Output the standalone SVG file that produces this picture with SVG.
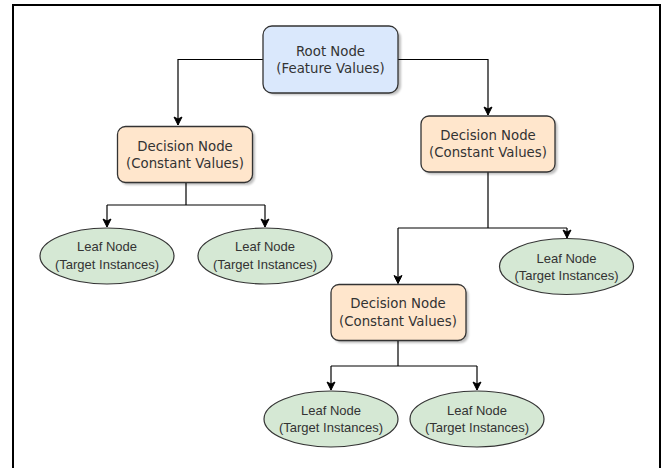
<svg xmlns="http://www.w3.org/2000/svg" width="665" height="468" viewBox="0 0 665 468">
  <style>
    .frame { fill: none; stroke: #000; stroke-width: 2; }
    .box { stroke: #333; stroke-width: 1.3; }
    .root { fill: #dae8fc; }
    .decision { fill: #ffe6cc; }
    .leaf { fill: #d5e8d4; stroke: #333; stroke-width: 1.2; }
    .shadow { fill: #000; opacity: 0.25; filter: url(#soft); }
    .lbl { font-family: "DejaVu Sans", Verdana, sans-serif; font-size: 13.3px; fill: #333; text-anchor: middle; }
    .leaf-lbl { font-family: "Liberation Sans", Arial, sans-serif; font-size: 13px; fill: #333; text-anchor: middle; }
    .edge { fill: none; stroke: #000; stroke-width: 1.2; marker-end: url(#arrow); }
    .trunk { fill: none; stroke: #000; stroke-width: 1.2; }
  </style>
  <defs>
    <filter id="soft" x="-10%" y="-10%" width="120%" height="130%">
      <feGaussianBlur stdDeviation="1"/>
    </filter>
    <marker id="arrow" markerUnits="userSpaceOnUse" markerWidth="10" markerHeight="10" refX="9" refY="5" orient="auto">
      <path d="M1,1 L9,5 L1,9 L3,5 z" fill="#000" stroke="#000" stroke-width="1"/>
    </marker>
  </defs>

  <rect width="665" height="468" fill="#fff"/>
  <path class="frame" d="M13,468 V5 H660 V468"/>

  <!-- connectors -->
  <g id="connectors">
    <path class="edge" d="M263,59.5 H178 V125"/>
    <path class="edge" d="M398,59.5 H488 V115"/>
    <path class="trunk" d="M186,183 V205 M107,205 H265"/>
    <path class="edge" d="M107,205 V227"/>
    <path class="edge" d="M265,205 V227"/>
    <path class="trunk" d="M488,172 V228 M398,228 H567"/>
    <path class="edge" d="M398,228 V283.5"/>
    <path class="edge" d="M567,228 V238"/>
    <path class="trunk" d="M398,341 V366 M331,366 H477"/>
    <path class="edge" d="M331,366 V390"/>
    <path class="edge" d="M477,366 V390"/>
  </g>

  <!-- root -->
  <g id="root-node">
    <rect class="shadow" x="266" y="29" width="135" height="66" rx="9"/>
    <rect class="box root" x="263" y="26" width="135" height="67" rx="9"/>
    <text class="lbl" x="330.5" y="56">Root Node</text>
    <text class="lbl" x="330.5" y="73">(Feature Values)</text>
  </g>

  <!-- decision nodes -->
  <g id="decision-left">
    <rect class="shadow" x="120" y="129" width="135" height="56" rx="8"/>
    <rect class="box decision" x="117.5" y="126.5" width="135" height="56" rx="8"/>
    <text class="lbl" x="185" y="151">Decision Node</text>
    <text class="lbl" x="185" y="168">(Constant Values)</text>
  </g>
  <g id="decision-right">
    <rect class="shadow" x="423.5" y="118.5" width="134" height="56" rx="8"/>
    <rect class="box decision" x="421" y="116" width="134" height="56" rx="8"/>
    <text class="lbl" x="488" y="140">Decision Node</text>
    <text class="lbl" x="488" y="157">(Constant Values)</text>
  </g>
  <g id="decision-bottom">
    <rect class="shadow" x="333.5" y="287" width="135" height="56" rx="8"/>
    <rect class="box decision" x="331" y="284.5" width="135" height="56" rx="8"/>
    <text class="lbl" x="398" y="308">Decision Node</text>
    <text class="lbl" x="398" y="325.5">(Constant Values)</text>
  </g>

  <!-- leaves -->
  <g id="leaf-1">
    <ellipse class="leaf" cx="107" cy="256" rx="67" ry="28"/>
    <text class="leaf-lbl" x="107" y="251">Leaf Node</text>
    <text class="leaf-lbl" x="107" y="268.5">(Target Instances)</text>
  </g>
  <g id="leaf-2">
    <ellipse class="leaf" cx="265" cy="256" rx="67" ry="28"/>
    <text class="leaf-lbl" x="265" y="251">Leaf Node</text>
    <text class="leaf-lbl" x="265" y="268.5">(Target Instances)</text>
  </g>
  <g id="leaf-3">
    <ellipse class="leaf" cx="566.5" cy="266.5" rx="67" ry="28"/>
    <text class="leaf-lbl" x="566.5" y="262.5">Leaf Node</text>
    <text class="leaf-lbl" x="566.5" y="279.5">(Target Instances)</text>
  </g>
  <g id="leaf-4">
    <ellipse class="leaf" cx="331" cy="419" rx="67" ry="28"/>
    <text class="leaf-lbl" x="331" y="414.5">Leaf Node</text>
    <text class="leaf-lbl" x="331" y="432">(Target Instances)</text>
  </g>
  <g id="leaf-5">
    <ellipse class="leaf" cx="477" cy="419" rx="67" ry="28"/>
    <text class="leaf-lbl" x="477" y="414.5">Leaf Node</text>
    <text class="leaf-lbl" x="477" y="432">(Target Instances)</text>
  </g>
</svg>
